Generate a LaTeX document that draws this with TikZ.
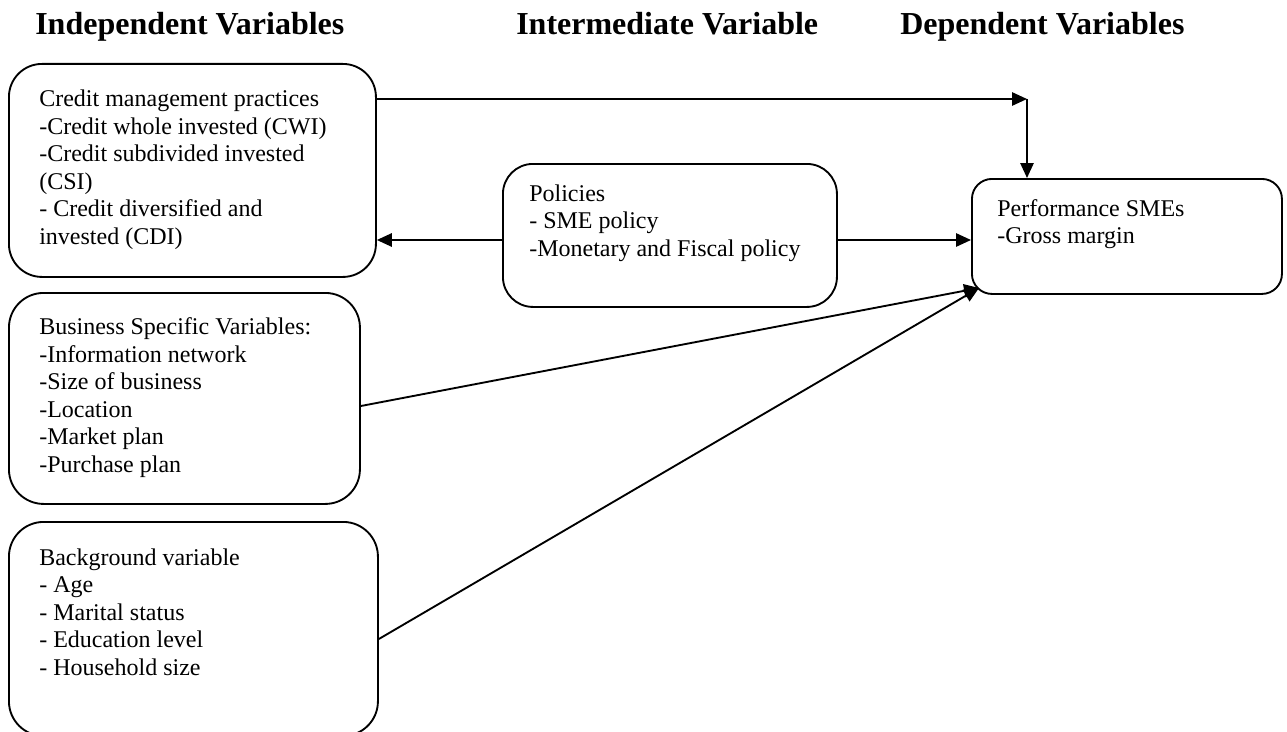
\documentclass[tikz,border=0pt]{standalone}
\usepackage{fontspec}
\setmainfont{Liberation Serif}
\usetikzlibrary{arrows.meta}
\begin{document}
\begin{tikzpicture}[x=0.75pt,y=-0.75pt,
  box/.style={draw=black, line width=1.4pt, anchor=north west, inner sep=0pt},
  txt/.style={anchor=base west, align=left, inner sep=0pt, font=\fontsize{18}{20.6}\selectfont},
  head/.style={anchor=base west, inner sep=0pt, font=\fontsize{24}{28}\selectfont\bfseries},
  arr/.style={line width=1.4pt, -{Triangle[length=11.25pt,width=10pt]}}]
\useasboundingbox (0,0) rectangle (1287,731);
\clip (0,0) rectangle (1287,731);
% headers
\node[head] (h1) at (35,35) {Independent Variables};
\node[head] (h2) at (516,35) {Intermediate Variable};
\node[head] (h3) at (900,35) {Dependent Variables};
% boxes
\node[box, rounded corners=24.75pt, minimum width=275.25pt, minimum height=159.75pt] (b1) at (8,63) {};
\node[box, rounded corners=26pt, minimum width=263.25pt, minimum height=158.25pt] (b2) at (8,292) {};
\node[box, rounded corners=26pt, minimum width=276.75pt, minimum height=160.5pt] (b3) at (8,521) {};
\node[box, rounded corners=22.5pt, minimum width=250.5pt, minimum height=107.25pt] (pol) at (502,163) {};
\node[box, rounded corners=15pt, minimum width=232.5pt, minimum height=86.25pt] (perf) at (971,178) {};
% texts (anchor = baseline of last line)
\node[txt] (t1) at (39,244) {Credit management practices\\-Credit whole invested (CWI)\\-Credit subdivided invested\\(CSI)\\- Credit diversified and\\invested (CDI)};
\node[txt] (t2) at (39,472) {Business Specific Variables:\\-Information network\\-Size of business\\-Location\\-Market plan\\-Purchase plan};
\node[txt] (t3) at (39,675) {Background variable\\- Age\\- Marital status\\- Education level\\- Household size};
\node[txt] (tp) at (529,256) {Policies\\- SME policy\\-Monetary and Fiscal policy};
\node[txt] (tf) at (997,243.5) {Performance SMEs\\-Gross margin};
% connectors
\coordinate (corner) at (1027,99);
\coordinate (pin) at (979,288);
\draw[arr] (b1.east |- corner) -- (corner);
\draw[arr] (corner) -- (perf.north -| corner);
\draw[arr] (pol.west |- 0,240) -- (b1.east |- 0,240);
\draw[arr] (pol.east |- 0,240) -- (perf.west |- 0,240);
\draw[arr] (b2.east |- 0,406) -- (pin);
\draw[arr] (b3.east |- 0,639) -- (pin);
\end{tikzpicture}
\end{document}
